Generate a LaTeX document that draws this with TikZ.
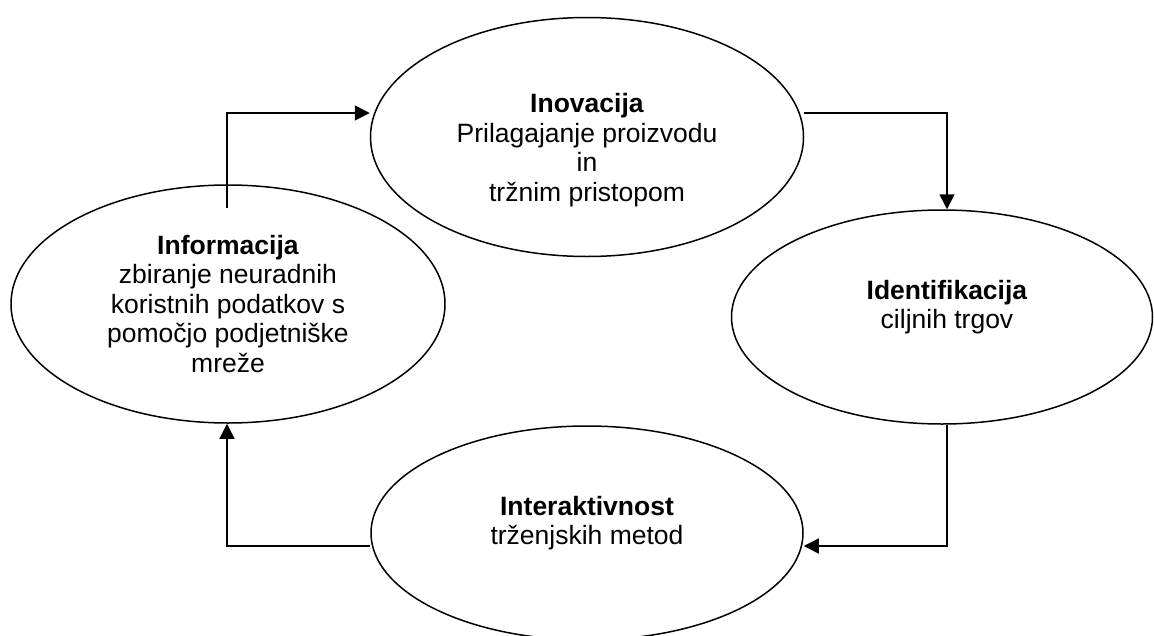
\documentclass[tikz,border=0pt]{standalone}
\usepackage{fontspec}
\setmainfont{Liberation Sans}
\usetikzlibrary{shapes.geometric,arrows.meta}

\tikzset{
  phase/.style={draw=black, line width=1.5pt, ellipse, inner sep=0pt},
  phasetext/.style={align=center, font=\fontsize{26.5}{29.5}\selectfont, inner sep=0pt},
  flow/.style={draw=black, line width=1.5pt, -{Triangle[length=15pt,width=15pt]}},
}

\begin{document}
\begin{tikzpicture}[x=1pt, y=-1pt]
  \useasboundingbox (0,0) rectangle (1154,635);

  % the four phases of the cycle
  \node[phase, minimum width=434pt, minimum height=238pt] (info)  at (228,304) {};
  \node[phase, minimum width=433pt, minimum height=239pt] (inov)  at (587,137) {};
  \node[phase, minimum width=421pt, minimum height=214pt] (ident) at (942,317) {};
  \node[phase, minimum width=432pt, minimum height=214pt] (inter) at (587,533) {};

  % phase labels
  \node[phasetext] (infotxt)  at (228,304) {\textbf{Informacija}\\zbiranje neuradnih\\koristnih podatkov s\\pomočjo podjetniške\\mreže};
  \node[phasetext] (inovtxt)  at (587,150) {\textbf{Inovacija}\\Prilagajanje proizvodu\\in\\tržnim pristopom};
  \node[phasetext] (identtxt) at (947,307) {\textbf{Identifikacija}\\ciljnih trgov};
  \node[phasetext] (intertxt) at (587,523) {\textbf{Interaktivnost}\\trženjskih metod};

  % connectors running clockwise
  \coordinate (infotop) at (227,208);
  \draw[flow] (infotop) |- ([yshift=24pt]inov.west);
  \draw[flow] ([yshift=24pt]inov.east) -| ([xshift=5pt]ident.north);
  \draw[flow] ([xshift=5pt]ident.south) |- ([yshift=-13pt]inter.east);
  \draw[flow] ([yshift=-13pt]inter.west) -| ([xshift=-1pt]info.south);
\end{tikzpicture}
\end{document}
